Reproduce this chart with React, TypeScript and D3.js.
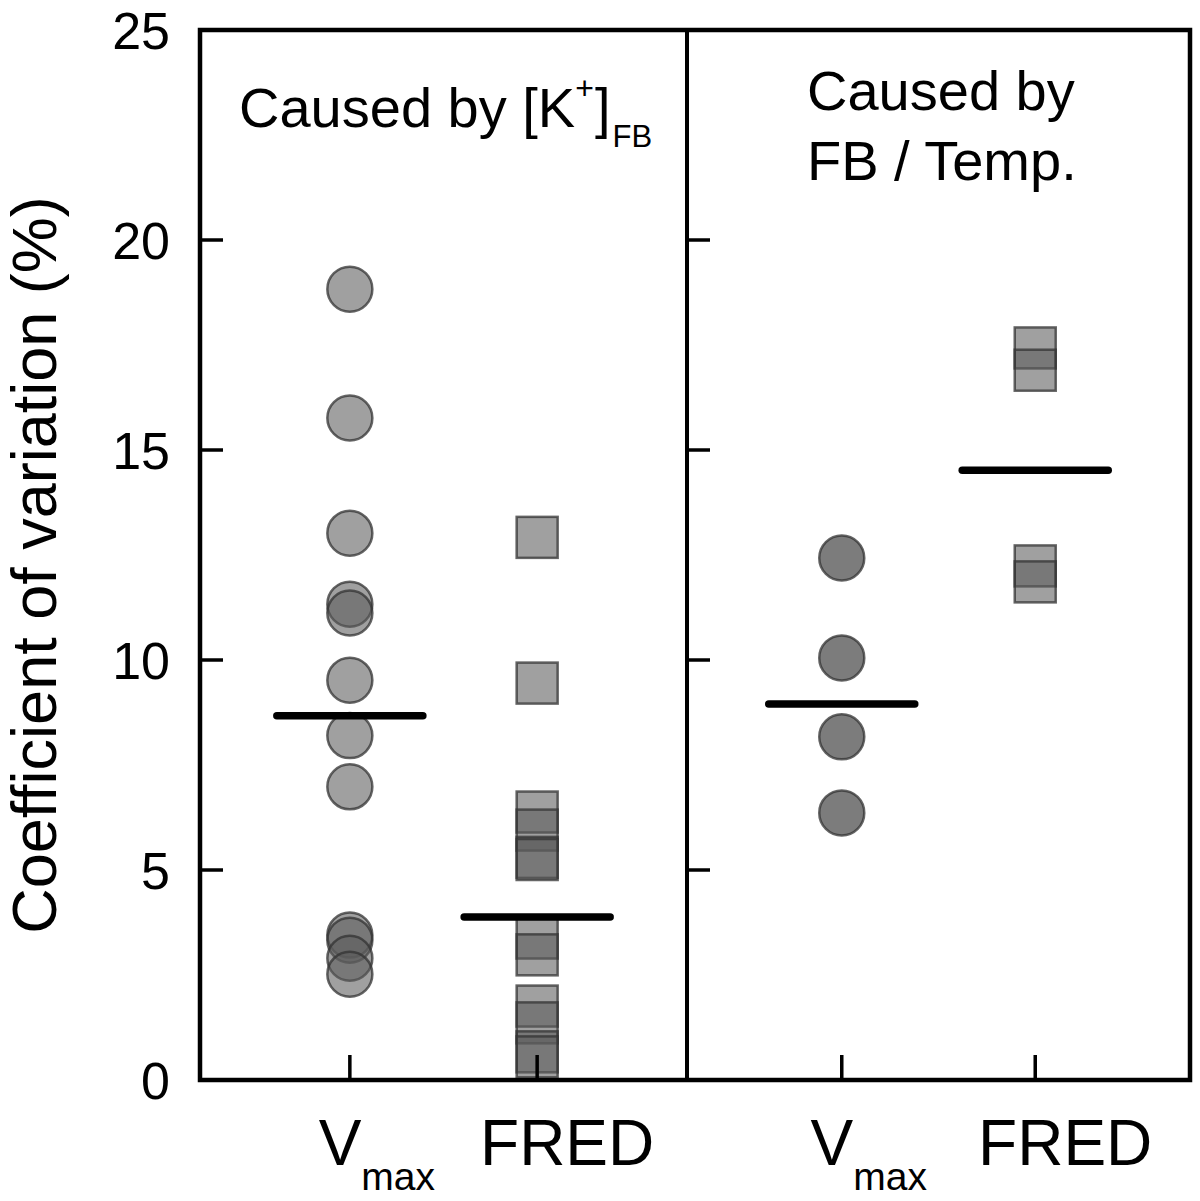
import * as d3 from 'd3';

// values (coefficient of variation, %)
const CATEGORIES = ['Vmax', 'FRED'];
const LEFT_VMAX = [18.83, 15.76, 13.02, 11.33, 11.12, 9.52, 8.2, 6.98, 3.45, 3.33, 2.9, 2.52];
const LEFT_FRED = [12.92, 9.45, 6.38, 5.95, 5.3, 5.25, 3.38, 2.98, 1.76, 1.36, 0.67, 0.55];
const RIGHT_VMAX = [12.43, 10.05, 8.17, 6.36];
const RIGHT_FRED = [17.43, 16.9, 12.24, 11.86];
const LEFT_MEANS = [8.67, 3.88];
const RIGHT_MEANS = [8.95, 14.52];
const Y_TICKS = [0, 5, 10, 15, 20, 25];

const W = 1200;
const H = 1201;
const X0 = 200;
const X_DIV = 687;
const X1 = 1190;
const Y_TOP = 30;
const Y_BOT = 1080;
const FONT = "'Liberation Sans', Arial, Helvetica, sans-serif";

const R = 22.5;
const SQ = 41;
const MARK_STROKE = '#333';

type Panel = {
  x: d3.ScalePoint<string>;
  series: number[][];
  means: number[];
  circleFill: string;
};

export default function App() {
  const y = d3.scaleLinear().domain([0, 25]).range([Y_BOT, Y_TOP]);
  const xLeft = d3.scalePoint<string>().domain(CATEGORIES).range([X0, X_DIV]).padding(0.8);
  const xRight = d3.scalePoint<string>().domain(CATEGORIES).range([X_DIV, X1]).padding(0.8);

  const panels: Panel[] = [
    { x: xLeft, series: [LEFT_VMAX, LEFT_FRED], means: LEFT_MEANS, circleFill: '#5b5b5b' },
    { x: xRight, series: [RIGHT_VMAX, RIGHT_FRED], means: RIGHT_MEANS, circleFill: '#1e1e1e' },
  ];

  const innerTicks = Y_TICKS.filter(t => t > 0 && t < 25);

  return (
    <svg
      width={W}
      height={H}
      style={{ position: 'absolute', left: 0, top: 0, background: '#fff' }}
      fontFamily={FONT}
    >
      <rect x={0} y={0} width={W} height={H} fill="#fff" />

      {/* markers */}
      {panels.map((p, pi) => (
        <g key={pi}>
          {p.series[0].map((v, i) => (
            <circle
              key={'c' + i}
              cx={p.x(CATEGORIES[0])}
              cy={y(v)}
              r={R}
              fill={p.circleFill}
              fillOpacity={0.58}
              stroke={MARK_STROKE}
              strokeOpacity={0.75}
              strokeWidth={2.5}
            />
          ))}
          {p.series[1].map((v, i) => (
            <rect
              key={'s' + i}
              x={(p.x(CATEGORIES[1]) ?? 0) - SQ / 2}
              y={y(v) - SQ / 2}
              width={SQ}
              height={SQ}
              fill="#5b5b5b"
              fillOpacity={0.58}
              stroke={MARK_STROKE}
              strokeOpacity={0.75}
              strokeWidth={2.5}
            />
          ))}
          {p.means.map((m, i) => {
            const cx = p.x(CATEGORIES[i]) ?? 0;
            return (
              <line
                key={'m' + i}
                x1={cx - 73}
                x2={cx + 73}
                y1={y(m)}
                y2={y(m)}
                stroke="#000"
                strokeWidth={7.5}
                strokeLinecap="round"
              />
            );
          })}
        </g>
      ))}

      {/* frame */}
      <rect x={X0} y={Y_TOP} width={X1 - X0} height={Y_BOT - Y_TOP} fill="none" stroke="#000" strokeWidth={4.5} />
      <line x1={X_DIV} x2={X_DIV} y1={Y_TOP} y2={Y_BOT} stroke="#000" strokeWidth={4} />

      {/* y ticks, inward on left axis and on divider */}
      {innerTicks.map(t => (
        <g key={t}>
          <line x1={X0} x2={X0 + 23} y1={y(t)} y2={y(t)} stroke="#000" strokeWidth={3.5} />
          <line x1={X_DIV} x2={X_DIV + 23} y1={y(t)} y2={y(t)} stroke="#000" strokeWidth={3.5} />
        </g>
      ))}
      {Y_TICKS.map(t => (
        <text key={'l' + t} x={170} y={y(t)} dy="0.36em" textAnchor="end" fontSize={52}>
          {t}
        </text>
      ))}

      {/* x ticks and category labels */}
      {panels.map((p, pi) => (
        <g key={'x' + pi}>
          {CATEGORIES.map(c => {
            const cx = p.x(c) ?? 0;
            return (
              <g key={c}>
                <line x1={cx} x2={cx} y1={Y_BOT} y2={Y_BOT - 25} stroke="#000" strokeWidth={3.5} />
                {c === 'Vmax' ? (
                  <text x={cx + 27} y={1165} textAnchor="middle" fontSize={64}>
                    V
                    <tspan fontSize={39} dy={25}>max</tspan>
                  </text>
                ) : (
                  <text x={cx + 30} y={1165} textAnchor="middle" fontSize={64}>
                    {c}
                  </text>
                )}
              </g>
            );
          })}
        </g>
      ))}

      {/* y axis title */}
      <text transform="translate(56,565) rotate(-90)" textAnchor="middle" fontSize={63}>
        Coefficient of variation (%)
      </text>

      {/* panel titles */}
      <text x={239} y={127} fontSize={56}>
        Caused by [K
        <tspan fontSize={32} dy={-28}>+</tspan>
        <tspan dy={28} dx={1}>]</tspan>
        <tspan fontSize={31} dy={20} dx={2}>FB</tspan>
      </text>
      <text x={807} y={110} fontSize={56}>Caused by</text>
      <text x={807} y={180} fontSize={56}>FB / Temp.</text>
    </svg>
  );
}
